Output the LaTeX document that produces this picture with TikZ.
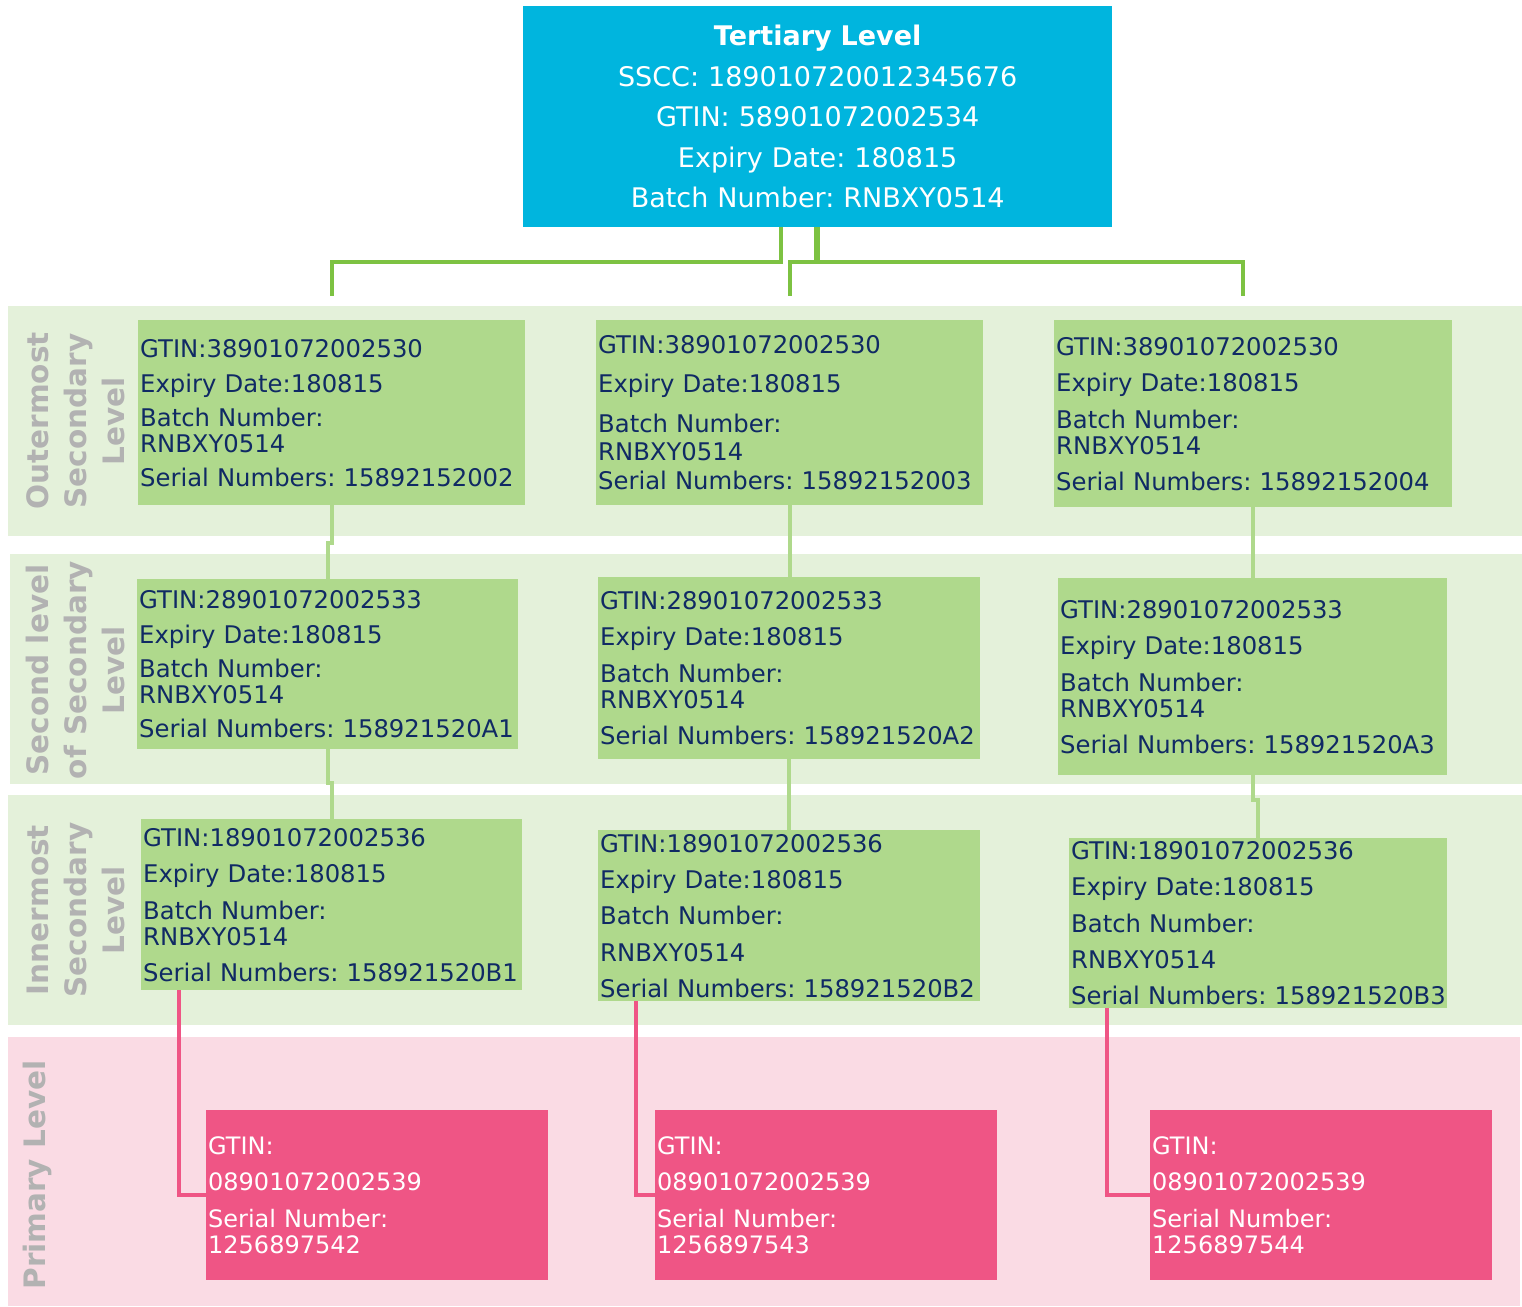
\documentclass[tikz,border=0pt]{standalone}
\usepackage{fontspec}
\setmainfont{DejaVu Sans}
\usetikzlibrary{positioning}
\frenchspacing

\definecolor{tercyan}{RGB}{0,181,222}
\definecolor{trunkgreen}{RGB}{125,194,66}
\definecolor{boxgreen}{RGB}{175,217,140}
\definecolor{bandgreen}{RGB}{228,241,218}
\definecolor{bandpink}{RGB}{250,219,228}
\definecolor{boxpink}{RGB}{239,85,133}
\definecolor{navytext}{RGB}{16,42,100}
\definecolor{labelgray}{RGB}{178,178,178}

\begin{document}
\begin{tikzpicture}
[x=1pt,y=-1pt,every node/.style={inner sep=0pt},
 terbox/.style={anchor=north west,fill=tercyan,text=white,align=center,inner xsep=2pt,
   font=\fontsize{27}{40.5}\selectfont},
 gbox/.style={anchor=north west,fill=boxgreen,text=navytext,align=left,inner xsep=2pt,
   font=\fontsize{24.3}{26}\selectfont},
 pbox/.style={anchor=north west,fill=boxpink,text=white,align=left,inner xsep=2pt,
   minimum height=170pt,text width=338pt,font=\fontsize{24}{26}\selectfont},
 bandlabel/.style={rotate=90,align=center,text=labelgray,font=\bfseries\fontsize{29.5}{38}\selectfont},
 tline/.style={draw=trunkgreen,line width=4pt},
 gline/.style={draw=boxgreen,line width=4pt},
 pline/.style={draw=boxpink,line width=4pt}]
\useasboundingbox (0,0) rectangle (1522,1306);
% bands
\fill[bandgreen] (8,306) rectangle (1522,536);
\fill[bandgreen] (10,554) rectangle (1522,784);
\fill[bandgreen] (8,795) rectangle (1522,1025);
\fill[bandpink] (8,1037) rectangle (1520,1306);
\node[bandlabel] (lout) at (76,421) {Outermost\\Secondary\\Level};
\node[bandlabel] (lsec) at (76,670) {Second level\\of Secondary\\Level};
\node[bandlabel] (linn) at (76,910) {Innermost\\Secondary\\Level};
\node[bandlabel] (lpri) at (37,1175) {Primary Level};
% tertiary
\node[terbox,text width=585pt,minimum height=221pt] (ter) at (523,6)
  {\textbf{Tertiary Level}\\SSCC: 189010720012345676\\GTIN: 58901072002534\\
   Expiry Date: 180815\\Batch Number: RNBXY0514};
% outermost secondary
\node[gbox,text width=383pt,minimum height=185pt] (a1) at (138,320)
  {GTIN:38901072002530\\[9pt]Expiry Date:180815\\[8pt]Batch Number:\\RNBXY0514\\[8pt]\mbox{Serial Numbers: 15892152002}};
\node[gbox,text width=383pt,minimum height=185pt] (a2) at (596,320)
  {GTIN:38901072002530\\[13pt]Expiry Date:180815\\[14pt]Batch Number:\\[2pt]RNBXY0514\\[3pt]\mbox{Serial Numbers: 15892152003}};
\node[gbox,text width=394pt,minimum height=187pt] (a3) at (1054,320)
  {GTIN:38901072002530\\[10pt]Expiry Date:180815\\[11pt]Batch Number:\\RNBXY0514\\[10pt]\mbox{Serial Numbers: 15892152004}};
% second level of secondary
\node[gbox,text width=377pt,minimum height=170pt] (b1) at (137,579)
  {GTIN:28901072002533\\[9pt]Expiry Date:180815\\[8pt]Batch Number:\\RNBXY0514\\[8pt]\mbox{Serial Numbers: 158921520A1}};
\node[gbox,text width=378pt,minimum height=182pt] (b2) at (598,577)
  {GTIN:28901072002533\\[10pt]Expiry Date:180815\\[11pt]Batch Number:\\RNBXY0514\\[10pt]\mbox{Serial Numbers: 158921520A2}};
\node[gbox,text width=385pt,minimum height=197pt] (b3) at (1058,578)
  {GTIN:28901072002533\\[10pt]Expiry Date:180815\\[11pt]Batch Number:\\RNBXY0514\\[10pt]\mbox{Serial Numbers: 158921520A3}};
% innermost secondary
\node[gbox,text width=377pt,minimum height=171pt] (c1) at (141,819)
  {GTIN:18901072002536\\[10pt]Expiry Date:180815\\[11pt]Batch Number:\\RNBXY0514\\[10pt]\mbox{Serial Numbers: 158921520B1}};
\node[gbox,text width=378pt,minimum height=171pt] (c2) at (598,830)
  {GTIN:18901072002536\\[10pt]Expiry Date:180815\\[10pt]Batch Number:\\[11pt]RNBXY0514\\[10pt]\mbox{Serial Numbers: 158921520B2}};
\node[gbox,text width=374pt,minimum height=170pt] (c3) at (1069,838)
  {GTIN:18901072002536\\[10pt]Expiry Date:180815\\[11pt]Batch Number:\\[10pt]RNBXY0514\\[10pt]\mbox{Serial Numbers: 158921520B3}};
% primary
\node[pbox] (p1) at (206,1110) {GTIN:\\[10pt]08901072002539\\[11pt]Serial Number:\\1256897542};
\node[pbox] (p2) at (655,1110) {GTIN:\\[10pt]08901072002539\\[11pt]Serial Number:\\1256897543};
\node[pbox] (p3) at (1150,1110) {GTIN:\\[10pt]08901072002539\\[11pt]Serial Number:\\1256897544};
% connectors
\coordinate (t1) at ([yshift=24pt]a1.north);
\coordinate (t2) at ([yshift=24pt]a2.north);
\coordinate (t3) at ([xshift=-10pt,yshift=24pt]a3.north);
\draw[tline] ([xshift=-36.5pt]ter.south) -- ++(0,35) -| (t1);
\draw[tline] ([xshift=0.5pt]ter.south) -- ++(0,35) -| (t2);
\draw[tline] ([xshift=-2pt]ter.south) -- ++(0,35) -| (t3);
\draw[gline] (a1.south) -- ++(0,38) -| (b1.north);
\draw[gline] (b1.south) -- ++(0,34) -| (c1.north);
\draw[gline] (a2.south) -- (a2.south |- b2.north);
\draw[gline] (b2.south) -- (b2.south |- c2.north);
\draw[gline] (a3.south) -- (a3.south |- b3.north);
\draw[gline] (b3.south) -- ++(0,25) -| (c3.north);
\foreach \up/\down in {c1/p1,c2/p2,c3/p3}
  \draw[pline] ([xshift=38pt]\up.south west) |- (\down.west);
\end{tikzpicture}
\end{document}
